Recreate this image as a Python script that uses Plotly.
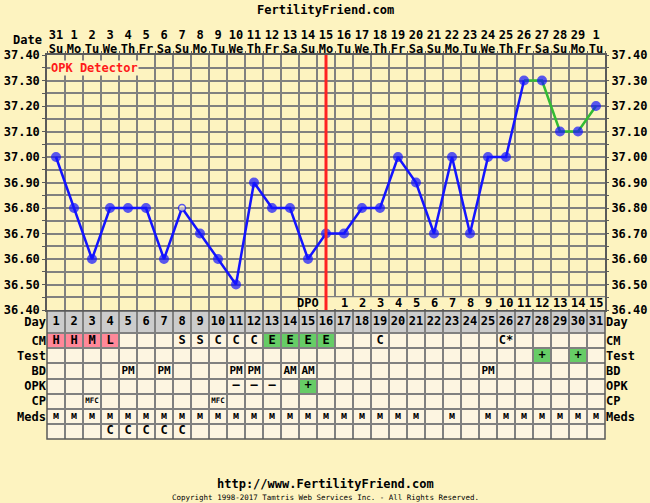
import plotly.graph_objects as go

W, H = 650, 503
FONT = "DejaVu Sans Mono"
BG = "#FDF3C0"
CREAM = "#FDF5E1"
GRAY = "#CCCCCC"
PINK = "#FF8899"
GREEN = "#66CC66"
GRID = "#808080"
BORDER = "#5a5a5a"

# ---------------- data ----------------
days = list(range(1, 32))
date_nums = [31] + list(range(1, 30)) + [1]
weekdays = ["Su", "Mo", "Tu", "We", "Th", "Fr", "Sa"] * 4 + ["Su", "Mo", "Tu"]
temps = [37.00, 36.80, 36.60, 36.80, 36.80, 36.80, 36.60, 36.80, 36.70, 36.60,
         36.50, 36.90, 36.80, 36.80, 36.60, 36.70, 36.70, 36.80, 36.80, 37.00,
         36.90, 36.70, 37.00, 36.70, 37.00, 37.00, 37.30, 37.30, 37.10, 37.10,
         37.20]
open_days = [8]          # hollow temperature marker
green_from_day = 27      # line drawn green from this day on
ovulation_day = 16       # red vertical line
dpo_start_day = 17
dpo_vals = list(range(1, 16))

temp_ticks = [36.40, 36.50, 36.60, 36.70, 36.80, 36.90, 37.00, 37.10, 37.20, 37.30, 37.40]

row_labels = ["Day", "CM", "Test", "BD", "OPK", "CP", "Meds", ""]
row_heights = [22, 15, 15, 15, 15, 15, 15, 15]

cm_row = ["H", "H", "M", "L", "", "", "", "S", "S", "C", "C", "C", "E", "E", "E", "E",
          "", "", "C", "", "", "", "", "", "", "C*", "", "", "", "", ""]
test_row = [""] * 27 + ["+", "", "+", ""]
bd_row = ["", "", "", "", "PM", "", "PM", "", "", "", "PM", "PM", "", "AM", "AM", "",
          "", "", "", "", "", "", "", "", "PM", "", "", "", "", "", ""]
opk_row = [""] * 10 + ["–", "–", "–", "", "+"] + [""] * 16
cp_row = ["", "", "MFC", "", "", "", "", "", "", "MFC"] + [""] * 21
meds_row = ["м"] * 21 + ["", "м", ""] + ["м"] * 7
extra_row = ["", "", "", "C", "C", "C", "C", "C"] + [""] * 23

fill_rules = {"CM": {"H": PINK, "M": PINK, "L": PINK, "E": GREEN},
              "Test": {"+": GREEN}, "OPK": {"+": GREEN}}

# ---------------- geometry ----------------
px0, px1 = 47, 605
ty0, ty1 = 55, 310
tb0, tb1 = 311, 439
xdom = [px0 / W, px1 / W]
tdom = [1 - ty1 / H, 1 - ty0 / H]
bdom = [1 - tb1 / H, 1 - tb0 / H]

bounds = [0]
for h in row_heights:
    bounds.append(bounds[-1] + h)
centers = [(bounds[i] + bounds[i + 1]) / 2 for i in range(len(row_heights))]
col_bounds = [d - 0.5 for d in days] + [days[-1] + 0.5]
xr = [col_bounds[0], col_bounds[-1]]

fig = go.Figure()

blue_x = [d for d in days if d <= green_from_day]
blue_y = [temps[d - 1] for d in blue_x]
green_x = [d for d in days if d >= green_from_day]
green_y = [temps[d - 1] for d in green_x]
fig.add_trace(go.Scatter(x=blue_x, y=blue_y, mode="lines",
                         line=dict(color="#1414FF", width=2.5), xaxis="x", yaxis="y",
                         hoverinfo="skip"))
fig.add_trace(go.Scatter(x=green_x, y=green_y, mode="lines",
                         line=dict(color="#33BB33", width=2.5), xaxis="x", yaxis="y",
                         hoverinfo="skip"))
mcol = [BG if d in open_days else "#1414FF" for d in days]
msize = [7 if d in open_days else 8.5 for d in days]
fig.add_trace(go.Scatter(x=days, y=temps, mode="markers",
                         marker=dict(color=mcol, size=msize,
                                     line=dict(color="#1414FF", width=1.5)),
                         xaxis="x", yaxis="y"))

rows_data = [("Day", [str(d) for d in days], 12),
             ("CM", cm_row, 12), ("Test", test_row, 12), ("BD", bd_row, 11),
             ("OPK", opk_row, 12), ("CP", cp_row, 7.5), ("Meds", meds_row, 10),
             ("", extra_row, 12)]
for ri, (name, vals, fs) in enumerate(rows_data):
    xs = [d for d, v in zip(days, vals) if v]
    ts = ["<b>%s</b>" % v for v in vals if v]
    fig.add_trace(go.Scatter(x=xs, y=[centers[ri]] * len(xs), mode="text", text=ts,
                             textfont=dict(family=FONT, size=fs, color="black"),
                             xaxis="x3", yaxis="y2", hoverinfo="skip"))

shapes = []
shapes.append(dict(type="rect", xref="x3", yref="y2", x0=xr[0], x1=xr[1],
                   y0=bounds[0], y1=bounds[1], fillcolor=GRAY, line_width=0, layer="below"))
shapes.append(dict(type="rect", xref="x3", yref="y2", x0=xr[0], x1=xr[1],
                   y0=bounds[1], y1=bounds[-1], fillcolor=CREAM, line_width=0, layer="below"))
row_vals = {"CM": cm_row, "Test": test_row, "OPK": opk_row}
for name, rules in fill_rules.items():
    ri = row_labels.index(name)
    for d, v in zip(days, row_vals[name]):
        if v in rules:
            shapes.append(dict(type="rect", xref="x3", yref="y2", x0=d - 0.5, x1=d + 0.5,
                               y0=bounds[ri], y1=bounds[ri + 1], fillcolor=rules[v],
                               line_width=0, layer="below"))
shapes.append(dict(type="rect", xref="x", yref="y domain", x0=dpo_start_day - 2.5,
                   x1=xr[1], y0=0.004, y1=0.05, fillcolor=BG, line_width=0,
                   layer="above"))
shapes.append(dict(type="line", xref="x", yref="y domain", x0=ovulation_day, x1=ovulation_day,
                   y0=0, y1=1, line=dict(color="#FF2222", width=3), layer="above"))
shapes.append(dict(type="rect", xref="x3 domain", yref="y2 domain", x0=0, x1=1, y0=0, y1=1,
                   line=dict(color=BORDER, width=1.5), layer="above"))

annotations = []
for i, v in enumerate(dpo_vals):
    annotations.append(dict(x=dpo_start_day + i, y=0.027, xref="x", yref="y domain",
                            text="<b>%d</b>" % v, showarrow=False, yanchor="middle",
                            font=dict(family=FONT, size=12, color="black")))
annotations.append(dict(x=ovulation_day - 0.5, y=0.027, xref="x", yref="y domain",
                        text="<b>DPO</b>", showarrow=False, xanchor="right", yanchor="middle",
                        xshift=4,
                        font=dict(family=FONT, size=12, color="black")))
annotations.append(dict(x=0.006, y=(ty1 - 68) / (ty1 - ty0), xref="x domain", yref="y domain",
                        text="<b>OPK Detector</b>", showarrow=False, xanchor="left",
                        yanchor="middle", bgcolor=BG, borderpad=0,
                        font=dict(family=FONT, size=12, color="#FF1A1A")))
annotations.append(dict(x=44 / W, y=1 - 40 / H, xref="paper", yref="paper", text="<b>Date</b>",
                        showarrow=False, xanchor="right", yanchor="middle",
                        font=dict(family=FONT, size=12, color="black")))
annotations.append(dict(x=0.5, y=1 - 10 / H, xref="paper", yref="paper",
                        text="<b>FertilityFriend.com</b>", showarrow=False, yanchor="middle",
                        font=dict(family=FONT, size=12, color="black")))
annotations.append(dict(x=0.5, y=1 - 484 / H, xref="paper", yref="paper",
                        text="<b>http://www.FertilityFriend.com</b>", showarrow=False,
                        yanchor="middle",
                        font=dict(family=FONT, size=12, color="black")))
annotations.append(dict(x=0.5, y=1 - 497 / H, xref="paper", yref="paper",
                        text="Copyright 1998-2017 Tamtris Web Services Inc. - All Rights Reserved.",
                        showarrow=False, yanchor="middle",
                        font=dict(family=FONT, size=7.5, color="black")))

tickfont = dict(family=FONT, size=12, color="black")
ytext = ["<b>%.2f</b>" % t for t in temp_ticks]
rowtext = ["<b>%s</b>" % r for r in row_labels]

fig.update_layout(
    width=W, height=H, margin=dict(l=0, r=0, t=0, b=0, pad=0, autoexpand=False),
    paper_bgcolor=BG, plot_bgcolor=BG, showlegend=False,
    font=dict(family=FONT, size=12, color="black"),
    shapes=shapes, annotations=annotations,
    xaxis=dict(domain=xdom, range=xr, anchor="y", automargin=False,
               tickmode="array", tickvals=col_bounds, showticklabels=False, ticks="",
               showgrid=True, gridcolor=GRID, gridwidth=1.5, zeroline=False,
               showline=True, mirror=True, linecolor=BORDER, linewidth=1.5),
    xaxis2=dict(overlaying="x", matches="x", side="top", anchor="y", range=xr,
                automargin=False,
                tickmode="array", tickvals=days,
                ticktext=["<b>%s</b>" % w for w in weekdays],
                tickfont=tickfont, ticks="", showgrid=False, zeroline=False,
                ticklabelstandoff=-1,
                minor=dict(tickmode="array", tickvals=col_bounds, ticks="outside",
                           ticklen=3, tickcolor=BORDER, showgrid=False)),
    xaxis4=dict(overlaying="x", matches="x", side="top", anchor="free",
                position=1 - 41 / H, range=xr, automargin=False,
                tickmode="array", tickvals=days,
                ticktext=["<b>%d</b>" % n for n in date_nums],
                tickfont=tickfont, ticks="", showgrid=False, zeroline=False,
                showline=False),
    yaxis=dict(domain=tdom, range=[temp_ticks[0], temp_ticks[-1]], anchor="x",
               automargin=False,
               tickmode="array", tickvals=temp_ticks, ticktext=ytext, tickfont=tickfont,
               ticks="outside", ticklen=3, tickcolor=BORDER,
               showgrid=True, gridcolor=GRID, gridwidth=1.5, zeroline=False,
               minor=dict(dtick=0.05, tick0=temp_ticks[0], showgrid=True, gridcolor=GRID,
                          gridwidth=1.5, ticks="outside", ticklen=3, tickcolor=BORDER),
               showline=True, mirror=True, linecolor=BORDER, linewidth=1.5),
    yaxis3=dict(overlaying="y", matches="y", side="right", anchor="x",
                range=[temp_ticks[0], temp_ticks[-1]], automargin=False,
                tickmode="array", tickvals=temp_ticks, ticktext=ytext, tickfont=tickfont,
                ticks="outside", ticklen=3, tickcolor=BORDER, showgrid=False, zeroline=False,
                minor=dict(dtick=0.05, tick0=temp_ticks[0], ticks="outside", ticklen=3,
                           tickcolor=BORDER, showgrid=False)),
    xaxis3=dict(domain=xdom, range=xr, anchor="y2", automargin=False,
                tickmode="array", tickvals=col_bounds, showticklabels=False, ticks="",
                showgrid=True, gridcolor=GRID, gridwidth=1.5, zeroline=False),
    yaxis2=dict(domain=bdom, range=[bounds[-1], bounds[0]], anchor="x3", automargin=False,
                tickmode="array", tickvals=centers, ticktext=rowtext, tickfont=tickfont,
                ticks="", showgrid=False, zeroline=False,
                minor=dict(tickmode="array", tickvals=bounds, showgrid=True, gridcolor=GRID,
                           gridwidth=1.5, ticks="")),
    yaxis4=dict(overlaying="y2", matches="y2", side="right", anchor="x3",
                range=[bounds[-1], bounds[0]], automargin=False,
                tickmode="array", tickvals=centers, ticktext=rowtext, tickfont=tickfont,
                ticks="", showgrid=False, zeroline=False),
)
fig.add_trace(go.Scatter(x=[days[0]], y=[temps[0]], xaxis="x2", yaxis="y3", mode="markers",
                         marker=dict(opacity=0), hoverinfo="skip"))
fig.add_trace(go.Scatter(x=[days[0]], y=[temps[0]], xaxis="x4", yaxis="y", mode="markers",
                         marker=dict(opacity=0), hoverinfo="skip"))
fig.add_trace(go.Scatter(x=[days[0]], y=[centers[0]], xaxis="x3", yaxis="y4", mode="markers",
                         marker=dict(opacity=0), hoverinfo="skip"))

page_fix = "document.body.style.margin='0';document.body.style.padding='0';"
fig.write_html("out.html", config={"displayModeBar": False}, post_script=page_fix)
